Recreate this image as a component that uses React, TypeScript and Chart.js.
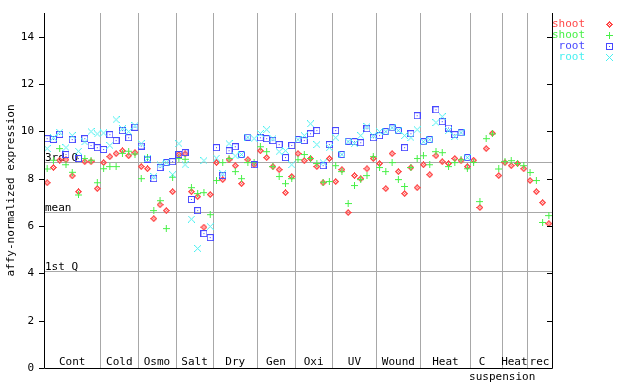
import { useEffect, useRef } from 'react';
import { Chart, registerables } from 'chart.js';
Chart.register(...registerables);

const groupLabels: string[][] = [['Cont'], ['Cold'], ['Osmo'], ['Salt'], ['Dry'], ['Gen'], ['Oxi'], ['UV'], ['Wound'], ['Heat'], ['C', 'suspension'], ['Heat'], ['rec']];
const groupSizes = [9, 6, 6, 6, 7, 6, 6, 7, 7, 8, 5, 4, 4];

const shootA = [
  7.83, 8.47, 8.78, 8.80, 8.12, 7.45, 8.72, 8.72, 7.58,
  8.68, 8.93, 9.06, 9.18, 8.97, 9.10,
  8.51, 8.42, 6.31, 6.90, 6.65, 7.45,
  9.02, 9.05, 7.45, 7.24, 5.95, 7.33,
  8.68, 7.96, 8.80, 8.55, 7.79, 8.80, 8.59,
  9.18, 8.89, 8.51, 8.38, 7.41, 8.09,
  9.06, 8.76, 8.85, 8.51, 7.83, 8.85,
  7.88, 8.38, 6.57, 8.13, 8.00, 8.42, 8.85,
  8.64, 7.58, 9.06, 8.30, 7.37, 8.47, 7.62,
  8.59, 8.17, 8.97, 8.72, 8.64, 8.85, 8.76, 8.51,
  8.78, 6.78, 9.27, 9.92, 8.13,
  8.68, 8.55, 8.64, 8.42,
  7.92, 7.45, 6.99, 6.10,
];
const shootB = [
  8.41, 8.78, 9.27, 8.59, 8.27, 7.31, 8.85, 8.78, 7.83,
  8.42, 8.51, 8.51, 9.07, 9.16, 9.04,
  8.00, 8.90, 6.65, 7.07, 5.89, 8.06,
  8.85, 8.82, 7.62, 7.37, 7.41, 6.48,
  7.92, 8.68, 8.85, 8.30, 8.00, 8.68, 8.68,
  9.35, 9.14, 8.51, 8.09, 7.79, 8.00,
  8.80, 9.02, 8.85, 8.64, 7.85, 7.88,
  8.55, 8.30, 6.95, 7.71, 7.96, 8.13, 8.93,
  8.47, 8.30, 8.68, 7.96, 7.67, 8.47, 8.85,
  8.97, 8.59, 9.14, 9.10, 8.51, 8.68, 8.80, 8.42,
  8.69, 7.03, 9.69, 9.89, 8.41,
  8.72, 8.76, 8.64, 8.55,
  8.26, 7.92, 6.15, 6.44,
];
const rootA = [
  9.69, 9.66, 9.87, 9.02, 9.65, 8.85, 9.69, 9.40, 9.31,
  9.23, 9.86, 9.61, 10.03, 9.73, 10.17,
  9.38, 8.83, 8.00, 8.47, 8.68, 8.72,
  9.02, 9.10, 7.12, 6.65, 5.68, 5.51,
  9.31, 8.13, 9.18, 9.35, 9.02, 9.75, 8.59,
  9.73, 9.69, 9.61, 9.44, 8.89, 9.40,
  9.65, 9.61, 9.90, 10.03, 8.55, 9.44,
  10.03, 9.02, 9.58, 9.56, 9.52, 10.11, 9.73,
  9.82, 9.99, 10.15, 10.03, 9.31, 9.90, 10.66,
  9.56, 9.65, 10.91, 10.41, 10.14, 9.86, 9.94, 8.89,
];
const rootB = [
  9.27, 9.73, 9.96, 9.31, 9.82, 9.16, 9.55, 9.99, 9.89,
  9.93, 9.40, 10.49, 10.11, 9.99, 10.24,
  9.48, 8.86, 8.09, 8.58, 8.68, 8.17,
  9.48, 8.59, 6.29, 5.05, 8.76, 5.98,
  8.87, 8.21, 9.48, 8.96, 9.02, 9.75, 9.69,
  9.91, 10.07, 9.69, 9.14, 9.18, 8.59,
  9.65, 9.82, 10.32, 9.44, 8.68, 9.31,
  9.73, 9.02, 9.56, 9.48, 9.82, 10.20, 9.82,
  9.99, 9.99, 10.15, 10.03, 9.82, 9.73, 10.07,
  9.56, 9.65, 10.37, 10.62, 10.03, 9.78, 9.94, 8.89,
];

const quartileLabels = ['3rd Q', 'mean', '1st Q'];
const quartileValues = [8.69, 6.61, 4.08];
const yTicks = [0, 2, 4, 6, 8, 10, 12, 14];
const seriesNames = ['shoot', 'shoot', 'root', 'root'];
const seriesColors = ['#ff4848', '#48f048', '#4848ff', '#48f0f0'];
const seriesKinds = ['diamond', 'plus', 'square', 'x'];

const FONT = '11px "DejaVu Sans Mono", monospace';

function makeMarker(kind: string, color: string): HTMLCanvasElement {
  const c = document.createElement('canvas');
  c.width = 7;
  c.height = 7;
  const g = c.getContext('2d')!;
  g.fillStyle = color;
  for (let dy = 0; dy < 7; dy++) {
    for (let dx = 0; dx < 7; dx++) {
      const u = dx - 3;
      const v = dy - 3;
      const m = Math.abs(u) + Math.abs(v);
      let on = false;
      if (kind === 'diamond') on = m <= 3 && m !== 1;
      else if (kind === 'plus') on = u === 0 || v === 0;
      else if (kind === 'square') on = Math.abs(u) === 3 || Math.abs(v) === 3 || m === 0;
      else if (kind === 'x') on = Math.abs(u) === Math.abs(v);
      if (on) g.fillRect(dx, dy, 1, 1);
    }
  }
  return c;
}

const decorPlugin = {
  id: 'decor',
  beforeDatasetsDraw(chart: any) {
    const { ctx, chartArea: a, scales } = chart;
    const xs = scales.x;
    const ys = scales.y;
    ctx.save();
    ctx.strokeStyle = '#a8a8a8';
    ctx.lineWidth = 1;
    // group separators
    let cum = 0;
    groupSizes.forEach((n, gi) => {
      cum += n;
      if (gi === groupSizes.length - 1) return;
      const px = Math.round(xs.getPixelForValue(cum + 0.5)) + 0.5;
      ctx.beginPath();
      ctx.moveTo(px, a.top);
      ctx.lineTo(px, a.bottom);
      ctx.stroke();
    });
    // quartile lines
    ctx.font = FONT;
    ctx.fillStyle = '#000';
    ctx.textAlign = 'left';
    ctx.textBaseline = 'alphabetic';
    quartileValues.forEach((v, qi) => {
      const py = Math.round(ys.getPixelForValue(v)) + 0.5;
      ctx.beginPath();
      ctx.moveTo(a.left, py);
      ctx.lineTo(a.right, py);
      ctx.stroke();
      ctx.fillText(quartileLabels[qi], a.left + 1, py - 2);
    });
    // group labels
    ctx.textAlign = 'center';
    ctx.textBaseline = 'middle';
    cum = 0;
    groupSizes.forEach((n, gi) => {
      const c = xs.getPixelForValue(cum + 0.5 + n / 2);
      cum += n;
      const lines = groupLabels[gi];
      ctx.fillText(lines[0], c - (lines.length > 1 ? 4 : 0), a.bottom - 6);
      if (lines.length > 1) ctx.fillText(lines[1], c + 16, a.bottom + 9);
    });
    ctx.restore();
  },
  afterDraw(chart: any) {
    const { ctx, chartArea: a, scales } = chart;
    const ys = scales.y;
    ctx.save();
    ctx.strokeStyle = '#000';
    ctx.lineWidth = 1;
    ctx.beginPath();
    ctx.moveTo(a.left + 0.5, a.top);
    ctx.lineTo(a.left + 0.5, a.bottom + 0.5);
    ctx.lineTo(a.right + 0.5, a.bottom + 0.5);
    ctx.moveTo(a.right + 0.5, a.top);
    ctx.lineTo(a.right + 0.5, a.bottom + 0.5);
    ctx.stroke();
    ctx.font = FONT;
    ctx.fillStyle = '#000';
    ctx.textAlign = 'right';
    ctx.textBaseline = 'middle';
    yTicks.forEach((t) => {
      const py = Math.round(ys.getPixelForValue(t)) + 0.5;
      ctx.beginPath();
      ctx.moveTo(a.left - 5, py);
      ctx.lineTo(a.left, py);
      ctx.moveTo(a.right - 5, py);
      ctx.lineTo(a.right, py);
      ctx.stroke();
      ctx.fillText(String(t), a.left - 10, py);
    });
    // y title
    ctx.save();
    ctx.translate(11, (a.top + a.bottom) / 2);
    ctx.rotate(-Math.PI / 2);
    ctx.textAlign = 'center';
    ctx.textBaseline = 'middle';
    ctx.fillText('affy-normalized expression', 0, 0);
    ctx.restore();
    // legend
    seriesNames.forEach((name, si) => {
      const y = a.top + 11 + si * 11;
      ctx.fillStyle = seriesColors[si];
      ctx.textAlign = 'right';
      ctx.fillText(name, a.right + 33, y);
      const m = makeMarker(seriesKinds[si], seriesColors[si]);
      ctx.drawImage(m, a.right + 54, Math.round(y) - 3);
    });
    ctx.restore();
  },
};

export default function App() {
  const ref = useRef<HTMLCanvasElement>(null);
  useEffect(() => {
    document.body.style.margin = '0';
    const toPts = (arr: number[]) => arr.map((v, i) => ({ x: i + 1, y: v }));
    const sets = [shootA, shootB, rootA, rootB];
    const chart = new Chart(ref.current!, {
      type: 'scatter',
      data: {
        datasets: sets.map((arr, si) => ({
          label: seriesNames[si],
          data: toPts(arr),
          pointStyle: makeMarker(seriesKinds[si], seriesColors[si]) as any,
          pointRadius: 3.5,
          showLine: false,
          order: 3 - si,
        })),
      },
      options: {
        animation: false,
        responsive: false,
        events: [],
        layout: { padding: { left: 44, right: 88, top: 13, bottom: 16 } },
        plugins: { legend: { display: false }, tooltip: { enabled: false } },
        scales: {
          x: { type: 'linear', min: 0.5, max: 81.5, display: false },
          y: { type: 'linear', min: 0, max: 15, display: false },
        },
      },
      plugins: [decorPlugin],
    });
    return () => chart.destroy();
  }, []);
  return (
    <div style={{ width: 640, height: 384, background: '#fff' }}>
      <canvas ref={ref} width={640} height={384} style={{ display: 'block' }} />
    </div>
  );
}
